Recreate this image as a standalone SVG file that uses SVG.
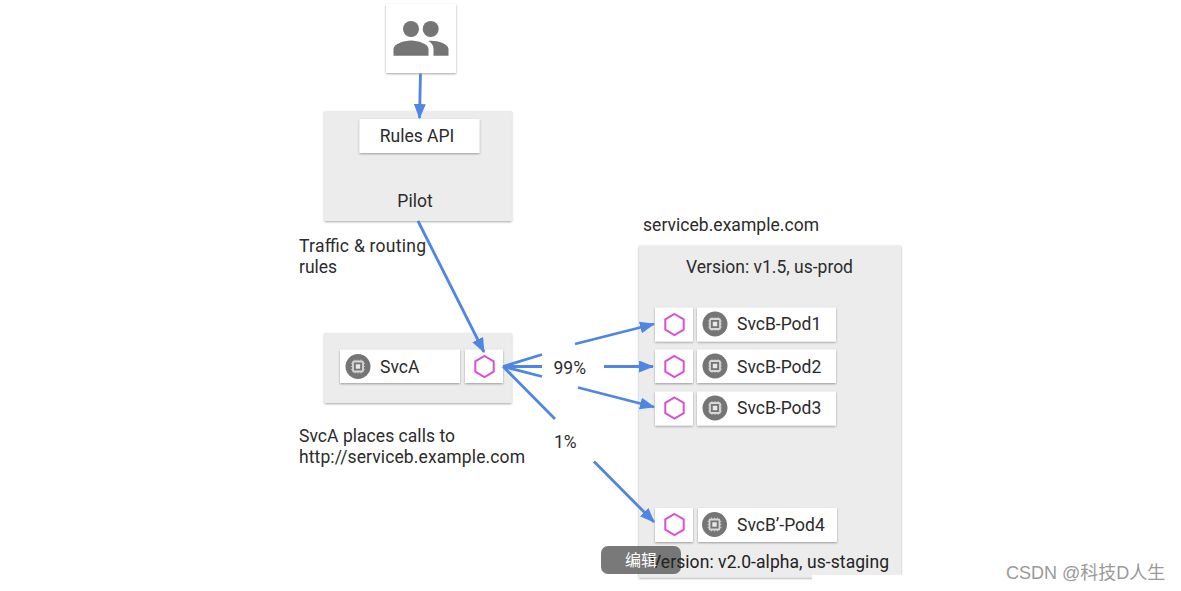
<svg xmlns="http://www.w3.org/2000/svg" width="1181" height="591" viewBox="0 0 1181 591">
<defs>
<filter id="sh" x="-10%" y="-10%" width="120%" height="125%"><feDropShadow dx="0" dy="1" stdDeviation="0.8" flood-color="#000" flood-opacity="0.35"/></filter>
<marker id="arr" markerUnits="userSpaceOnUse" markerWidth="16" markerHeight="14" refX="14" refY="6" orient="auto"><path d="M0,0 L15,6 L0,12 Z" fill="#4f86e3"/></marker>
<g id="chip"><circle r="12.5" fill="#757575"/><rect x="-5" y="-5" width="10" height="10" rx="1" fill="none" stroke="#d8d8d8" stroke-width="1.8"/><rect x="-2.2" y="-2.2" width="4.4" height="4.4" fill="#e8e8e8"/><path d="M-3,-7V7M0,-7V7M3,-7V7M-7,-3H7M-7,0H7M-7,3H7" stroke="#cfcfcf" stroke-width="0.8" stroke-dasharray="2 10" fill="none"/></g>
<polygon id="hex" points="0,-10.5 9.2,-5.2 9.2,5.2 0,10.5 -9.2,5.2 -9.2,-5.2" fill="none" stroke="#d94fd5" stroke-width="2"/>
</defs>
<style>
.panel{fill:#ececec;filter:url(#sh)}
.card{fill:#fff;filter:url(#sh)}
text{font-family:Roboto,"Liberation Sans","Noto Sans CJK SC",sans-serif;font-size:17.5px;fill:#2b2b2b}
.m{text-anchor:middle}
.conn{fill:none;stroke:#4f86e3;stroke-width:2.8}
.a{marker-end:url(#arr)}
</style>
<rect width="1181" height="591" fill="#fff"/>
<g id="users"><rect class="card" x="386" y="4" width="70" height="69"/>
<circle cx="411" cy="29" r="8" fill="#757575"/><circle cx="430.700" cy="29" r="8" fill="#757575"/>
<path d="M393.500,55.700V49C393.500,44 404,40.500 411,40.500C418,40.500 428.500,44 428.500,49V55.700Z" fill="#757575"/>
<path d="M430,40.700C438,40.500 448.500,44 448.500,49V55.700H433.500V49C433.500,45.500 431.500,42.800 428.500,41Z" fill="#757575"/></g>
<g id="pilot"><rect class="panel" x="324.500" y="111" width="187" height="110"/>
<rect class="card" x="359.500" y="119" width="120" height="34"/>
<text class="m" x="417" y="142">Rules API</text><text class="m" x="415" y="207">Pilot</text></g>
<g id="svca"><rect class="panel" x="324.500" y="333" width="187" height="70"/>
<rect class="card" x="340" y="349.500" width="120" height="33.500"/><use href="#chip" x="358" y="366.500"/>
<text x="380" y="372.500">SvcA</text>
<rect class="card" x="465" y="349.500" width="38" height="33.500"/><use href="#hex" x="484.500" y="366.500"/></g>
<g id="serviceb"><rect class="panel" x="639" y="245.500" width="262" height="332"/>
<text class="m" x="769.500" y="273">Version: v1.5, us-prod</text></g>
<g id="pod1"><rect class="card" x="655" y="307.500" width="38" height="34"/><use href="#hex" x="674.500" y="324.500"/><rect class="card" x="697" y="307.500" width="139" height="34"/><use href="#chip" x="715" y="324"/><text x="737" y="330">SvcB-Pod1</text></g>
<g id="pod2"><rect class="card" x="655" y="349.500" width="38" height="33.500"/><use href="#hex" x="674.500" y="366.500"/><rect class="card" x="697" y="349.500" width="139" height="33.500"/><use href="#chip" x="715" y="366"/><text x="737" y="372.500">SvcB-Pod2</text></g>
<g id="pod3"><rect class="card" x="655" y="391.500" width="38" height="34"/><use href="#hex" x="674.500" y="408"/><rect class="card" x="697" y="391.500" width="139" height="34"/><use href="#chip" x="715" y="408"/><text x="737" y="414">SvcB-Pod3</text></g>
<g id="pod4"><rect class="card" x="655" y="508" width="38" height="34"/><use href="#hex" x="674.500" y="524.500"/><rect class="card" x="698" y="508" width="139" height="34"/><use href="#chip" x="714.500" y="524.500"/><text x="737" y="531">SvcB’-Pod4</text></g>
<g id="connectors">
<path class="conn a" d="M420.500,73.500L419.500,118"/>
<path class="conn a" d="M418,221L484,352"/>
<path class="conn" d="M503,366.500L542,354.500M503,366.500H542M503,366.500L542,376.500M503,366.500L555,419"/>
<path class="conn a" d="M575,344L654,324"/>
<path class="conn a" d="M604,366.500H653"/>
<path class="conn a" d="M578,387.500L654,407"/>
<path class="conn a" d="M594,461.500L654,522"/>
</g>
<g id="labels">
<text x="643" y="231" textLength="176">serviceb.example.com</text>
<text x="299" y="251.500" textLength="127">Traffic &amp; routing</text><text x="299" y="272.500">rules</text>
<text x="299" y="441.500" textLength="156">SvcA places calls to</text><text x="299" y="462.500" textLength="226">http://serviceb.example.com</text>
<text x="553.500" y="374">99%</text><text x="554" y="447.500">1%</text>
</g>
<g id="overlay">
<rect x="601" y="546" width="80" height="28" rx="7" fill="#6a6a6a" fill-opacity="0.9"/>
<text x="650" y="568" textLength="239" style="fill:#222">Version: v2.0-alpha, us-staging</text>
<text x="625" y="566" style="fill:#fff;font-size:16px;font-family:'Noto Sans CJK SC',sans-serif">编辑</text>
<rect x="812" y="575" width="200" height="16" fill="#fff"/>
<text x="1006" y="579" style="fill:#9a9a9a;font-size:18px;font-family:'Liberation Sans','Noto Sans CJK SC',sans-serif">CSDN @科技D人生</text>
</g>
</svg>
